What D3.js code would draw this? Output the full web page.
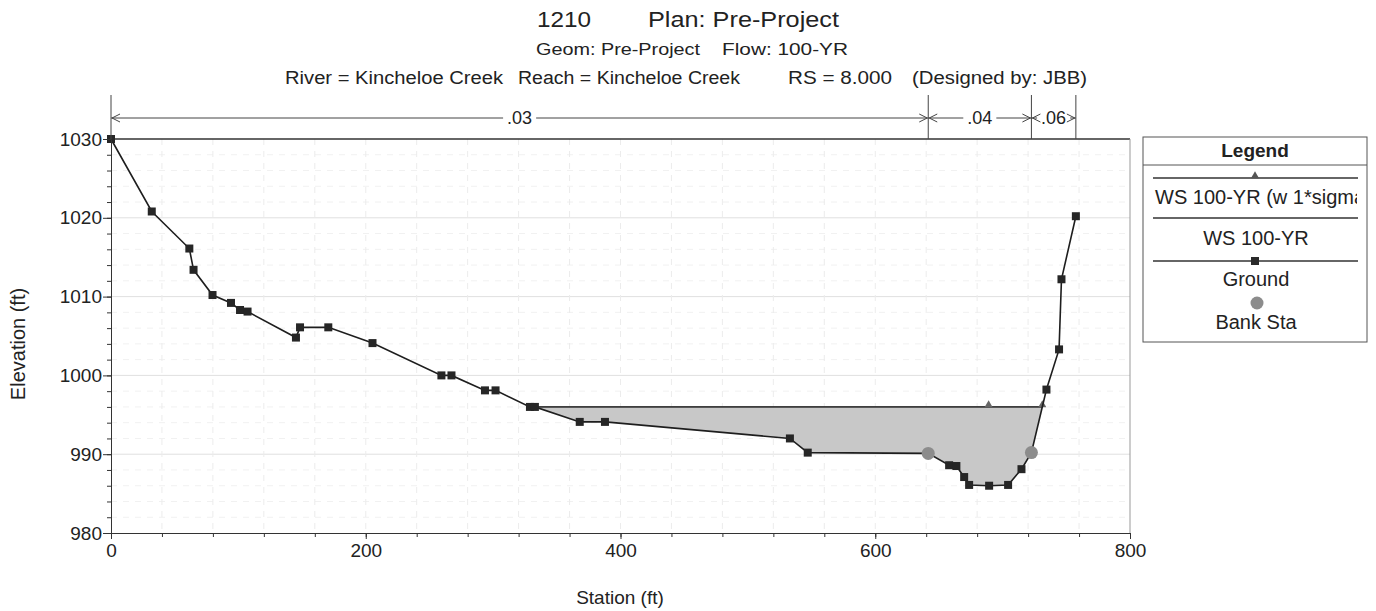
<!DOCTYPE html>
<html>
<head>
<meta charset="utf-8">
<script src="https://cdn.jsdelivr.net/npm/d3@7"></script>
<style>
  body { margin: 0; background: #fff; }
  svg { display: block; font-family: "Liberation Sans", Arial, sans-serif; }
  text { fill: #222; }
</style>
</head>
<body>
<svg id="chart" width="1376" height="611"></svg>
<script>
// ground profile
const stations = [0, 32, 61.5, 64.8, 79.7, 94.2, 101.3, 107.2, 145.2, 148.4, 170.6, 205.3,
  259.4, 267.3, 293.6, 301.9, 328.9, 332.8, 368, 387.8, 533, 547, 641.6, 658, 663.7,
  669.8, 673.7, 689.4, 704.3, 714.8, 722.6, 734.4, 744.3, 746.2, 757.5];
const elevations = [1030, 1020.8, 1016.1, 1013.4, 1010.2, 1009.2, 1008.3, 1008.1, 1004.8, 1006.1, 1006.1, 1004.1,
  1000.0, 1000.0, 998.1, 998.1, 996.0, 996.0, 994.1, 994.1, 992.0, 990.2, 990.1, 988.6, 988.5,
  987.1, 986.1, 986.0, 986.1, 988.1, 990.2, 998.2, 1003.3, 1012.2, 1020.2];

const wsElev = 996.0;          // WS 100-YR
const wsSigmaElev = 996.0;     // WS 100-YR (w 1*sigma)
const wsSigmaMarkers = [689];  // triangle markers along the sigma line

const bankStations = [641.6, 722.6];
const bankElevations = [990.1, 990.2];

const nValues = ['.03', '.04', '.06'];
const nBreaks = [0, 641.6, 722.6, 757.5];

const xTicks = [0, 200, 400, 600, 800];
const yTicks = [980, 990, 1000, 1010, 1020, 1030];

const svg = d3.select('#chart');

const x = d3.scaleLinear().domain([0, 800]).range([111, 1130]);
const y = d3.scaleLinear().domain([980, 1030]).range([533, 139]);

const ground = stations.map((s, i) => ({ s, z: elevations[i] }));

// titles
const titles = [
  { t: '1210', x0: 537, x1: 591, y: 27, size: 22 },
  { t: 'Plan: Pre-Project', x0: 648, x1: 839, y: 27, size: 22 },
  { t: 'Geom: Pre-Project', x0: 536, x1: 700, y: 55, size: 17 },
  { t: 'Flow: 100-YR', x0: 722, x1: 848, y: 55, size: 17 },
  { t: 'River = Kincheloe Creek', x0: 285, x1: 503, y: 84, size: 18 },
  { t: 'Reach = Kincheloe Creek', x0: 518, x1: 740, y: 84, size: 18 },
  { t: 'RS = 8.000', x0: 788, x1: 892, y: 84, size: 18 },
  { t: '(Designed by: JBB)', x0: 912, x1: 1087, y: 84, size: 18 }
];
svg.append('g').selectAll('text')
  .data(titles)
  .enter().append('text')
  .attr('x', d => d.x0)
  .attr('y', d => d.y)
  .attr('font-size', d => d.size)
  .attr('textLength', d => d.x1 - d.x0)
  .attr('lengthAdjust', 'spacingAndGlyphs')
  .text(d => d.t);

// grid (very faint in the original)
const grid = svg.append('g');
grid.selectAll('line.gy')
  .data(d3.range(982, 1030, 2))
  .enter().append('line')
  .attr('x1', x(0)).attr('x2', x(800))
  .attr('y1', d => y(d)).attr('y2', d => y(d))
  .attr('stroke', d => d % 10 === 0 ? '#e0e0e0' : '#f1f1f1')
  .attr('stroke-dasharray', d => d % 10 === 0 ? null : '6,6');
grid.selectAll('line.gx')
  .data(d3.range(40, 800, 40))
  .enter().append('line')
  .attr('y1', y(1030)).attr('y2', y(980))
  .attr('x1', d => x(d)).attr('x2', d => x(d))
  .attr('stroke', '#ececec')
  .attr('stroke-dasharray', '6,6');

// plot frame
svg.append('line')
  .attr('x1', x(0)).attr('x2', x(800)).attr('y1', y(1030)).attr('y2', y(1030))
  .attr('stroke', '#333').attr('stroke-width', 1.3);
svg.append('line')
  .attr('x1', x(800)).attr('x2', x(800)).attr('y1', y(1030)).attr('y2', y(980))
  .attr('stroke', '#999');

// water fill: insert crossings of ground with the water surface
function wetSection(pts, ws) {
  const out = [];
  for (let i = 0; i < pts.length; i++) {
    const p = pts[i];
    if (i > 0) {
      const q = pts[i - 1];
      if ((q.z - ws) * (p.z - ws) < 0) {
        const t = (ws - q.z) / (p.z - q.z);
        out.push({ s: q.s + t * (p.s - q.s), z: ws });
      }
    }
    out.push(p);
  }
  // keep the stretch between the first and last crossing below water
  const firstWet = out.findIndex((p, i) => p.z <= ws && out[i + 1] && out[i + 1].z < ws);
  let lastWet = out.length - 1;
  while (lastWet > 0 && !(out[lastWet].z <= ws && out[lastWet - 1].z < ws)) lastWet--;
  return out.slice(firstWet, lastWet + 1);
}
const wet = wetSection(ground, wsElev);

svg.append('path')
  .datum(wet)
  .attr('d', d3.area().x(d => x(d.s)).y0(d => y(d.z)).y1(y(wsElev)))
  .attr('fill', '#c8c8c8');

// water surface lines
const wsExtent = d3.extent(wet, d => d.s);
svg.append('path')
  .datum(wsExtent.map(s => ({ s, z: wsElev })))
  .attr('d', d3.line().x(d => x(d.s)).y(d => y(d.z)))
  .attr('stroke', '#333').attr('stroke-width', 1.4).attr('fill', 'none');
svg.append('path')
  .datum(wsExtent.map(s => ({ s, z: wsSigmaElev })))
  .attr('d', d3.line().x(d => x(d.s)).y(d => y(d.z)))
  .attr('stroke', '#333').attr('stroke-width', 1.2).attr('fill', 'none');

const tri = d3.symbol().type(d3.symbolTriangle).size(28);
svg.append('g').selectAll('path')
  .data(wsSigmaMarkers.concat([wsExtent[1]]))
  .enter().append('path')
  .attr('d', tri)
  .attr('transform', d => `translate(${x(d)},${y(wsSigmaElev) - 2})`)
  .attr('fill', '#666');

// ground line + squares
svg.append('path')
  .datum(ground)
  .attr('d', d3.line().x(d => x(d.s)).y(d => y(d.z)))
  .attr('stroke', '#1e1e1e').attr('stroke-width', 1.6).attr('fill', 'none');
svg.append('g').selectAll('rect')
  .data(ground)
  .enter().append('rect')
  .attr('x', d => x(d.s) - 4).attr('y', d => y(d.z) - 4)
  .attr('width', 8).attr('height', 8)
  .attr('fill', '#262626');

// bank stations
svg.append('g').selectAll('circle')
  .data(bankStations)
  .enter().append('circle')
  .attr('cx', d => x(d))
  .attr('cy', (d, i) => y(bankElevations[i]))
  .attr('r', 6.5)
  .attr('fill', '#8c8c8c');

// axes
const yAxis = svg.append('g')
  .attr('transform', `translate(${x(0)},0)`)
  .call(d3.axisLeft(y).tickValues(yTicks).tickSize(8).tickSizeOuter(0).tickFormat(d3.format('d')));
yAxis.selectAll('text').attr('font-size', 19).attr('x', -9).attr('fill', '#222');
svg.append('g')
  .attr('transform', `translate(${x(0)},0)`)
  .call(d3.axisLeft(y).tickValues(d3.range(982, 1030, 2)).tickSize(4).tickFormat(''))
  .select('.domain').remove();

const xAxis = svg.append('g')
  .attr('transform', `translate(0,${y(980)})`)
  .call(d3.axisBottom(x).tickValues(xTicks).tickSize(6).tickSizeOuter(0));
xAxis.selectAll('text').attr('font-size', 19).attr('y', 11).attr('fill', '#222');
svg.append('g')
  .attr('transform', `translate(0,${y(980)})`)
  .call(d3.axisBottom(x).tickValues(d3.range(40, 800, 40)).tickSize(4).tickFormat(''))
  .select('.domain').remove();
svg.selectAll('.domain, .tick line').attr('stroke', '#333');

svg.append('text')
  .attr('x', 620).attr('y', 604)
  .attr('text-anchor', 'middle').attr('font-size', 19)
  .text('Station (ft)');
svg.append('text')
  .attr('transform', `translate(25,${(y(980) + y(1030)) / 2 + 8}) rotate(-90)`)
  .attr('text-anchor', 'middle').attr('font-size', 20)
  .text('Elevation (ft)');

// Manning's n bar above the plot
const nY = 118;
const nBar = svg.append('g').attr('stroke', '#444').attr('fill', 'none');
nBar.selectAll('line.sep')
  .data(nBreaks)
  .enter().append('line')
  .attr('x1', d => x(d)).attr('x2', d => x(d))
  .attr('y1', 95).attr('y2', y(1030))
  .attr('stroke-width', 1);

nValues.forEach((v, i) => {
  const xa = x(nBreaks[i]), xb = x(nBreaks[i + 1]);
  const xm = (xa + xb) / 2;
  const label = svg.append('text')
    .attr('x', xm).attr('y', nY + 6)
    .attr('text-anchor', 'middle').attr('font-size', 18)
    .text(v);
  const w = label.node().getComputedTextLength();
  const gapL = xm - w / 2 - 4, gapR = xm + w / 2 + 4;
  if (gapL > xa + 2) nBar.append('line').attr('x1', xa).attr('x2', gapL).attr('y1', nY).attr('y2', nY);
  if (gapR < xb - 2) nBar.append('line').attr('x1', gapR).attr('x2', xb).attr('y1', nY).attr('y2', nY);
  nBar.append('path').attr('d', `M${xa + 9},${nY - 4}L${xa + 1},${nY}L${xa + 9},${nY + 4}`);
  nBar.append('path').attr('d', `M${xb - 9},${nY - 4}L${xb - 1},${nY}L${xb - 9},${nY + 4}`);
});

// legend
const lg = svg.append('g');
const lx0 = 1143, lx1 = 1367, ly0 = 137, ly1 = 342;
lg.append('clipPath').attr('id', 'lgclip')
  .append('rect').attr('x', lx0 + 2).attr('y', ly0).attr('width', 1357 - lx0 - 2).attr('height', ly1 - ly0);
lg.append('rect')
  .attr('x', lx0).attr('y', ly0).attr('width', lx1 - lx0).attr('height', ly1 - ly0)
  .attr('fill', '#fff').attr('stroke', '#555');
lg.append('text')
  .attr('x', 1255).attr('y', 157)
  .attr('text-anchor', 'middle').attr('font-size', 19).attr('font-weight', 'bold')
  .text('Legend');
lg.append('line').attr('x1', lx0).attr('x2', lx1).attr('y1', 165).attr('y2', 165).attr('stroke', '#555');

const legendItems = [
  { name: 'WS 100-YR (w 1*sigma)', type: 'tri', ly: 178, ty: 204, anchor: 'start' },
  { name: 'WS 100-YR', type: 'line', ly: 218, ty: 245, anchor: 'middle' },
  { name: 'Ground', type: 'square', ly: 261, ty: 286, anchor: 'middle' },
  { name: 'Bank Sta', type: 'circle', ly: 303, ty: 329, anchor: 'middle' }
];
legendItems.forEach(it => {
  if (it.type !== 'circle') {
    lg.append('line').attr('x1', 1153).attr('x2', 1358).attr('y1', it.ly).attr('y2', it.ly)
      .attr('stroke', '#333').attr('stroke-width', 1.3);
  }
  if (it.type === 'tri') {
    lg.append('path').attr('d', tri).attr('transform', `translate(1255,${it.ly - 2})`).attr('fill', '#555');
  } else if (it.type === 'square') {
    lg.append('rect').attr('x', 1251).attr('y', it.ly - 4).attr('width', 8).attr('height', 8).attr('fill', '#2a2a2a');
  } else if (it.type === 'circle') {
    lg.append('circle').attr('cx', 1257).attr('cy', it.ly).attr('r', 6.5).attr('fill', '#8c8c8c');
  }
  lg.append('text')
    .attr('x', it.anchor === 'start' ? 1155 : 1256).attr('y', it.ty)
    .attr('text-anchor', it.anchor).attr('font-size', 20)
    .attr('clip-path', 'url(#lgclip)')
    .text(it.name);
});
</script>
</body>
</html>
